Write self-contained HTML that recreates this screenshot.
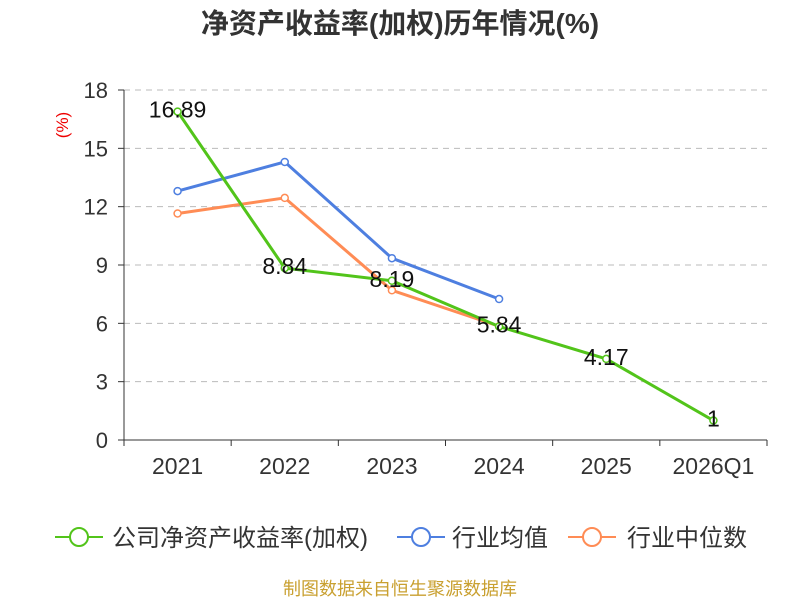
<!DOCTYPE html>
<html><head><meta charset="utf-8"><style>
body{margin:0;background:#fff;font-family:"Liberation Sans","Noto Sans CJK SC",sans-serif;}
</style></head><body>
<svg id="c" width="800" height="600" xmlns="http://www.w3.org/2000/svg" font-family="Liberation Sans, Noto Sans CJK SC, sans-serif">
<text x="400" y="33" text-anchor="middle" font-size="28" font-weight="bold" fill="#333">净资产收益率(加权)历年情况(%)</text>
<text transform="translate(68,125) rotate(-90)" text-anchor="middle" font-size="17" fill="#e00">(%)</text>
<g id="grid"></g><g id="axes"></g><g id="series"></g>
<g>
<g><line x1="55" y1="537" x2="103" y2="537" stroke="#52c41a" stroke-width="2"/><circle cx="79" cy="537" r="9" fill="#fff" stroke="#52c41a" stroke-width="2"/><text x="112" y="546" font-size="24" fill="#333">公司净资产收益率(加权)</text></g>
<g><line x1="397" y1="537" x2="445" y2="537" stroke="#4e7fe0" stroke-width="2"/><circle cx="421" cy="537" r="9" fill="#fff" stroke="#4e7fe0" stroke-width="2"/><text x="452" y="546" font-size="24" fill="#333">行业均值</text></g>
<g><line x1="568" y1="537" x2="616" y2="537" stroke="#ff8c55" stroke-width="2"/><circle cx="592" cy="537" r="9" fill="#fff" stroke="#ff8c55" stroke-width="2"/><text x="627" y="546" font-size="24" fill="#333">行业中位数</text></g>
</g>
<text x="400" y="595" text-anchor="middle" font-size="18" fill="#c9a030">制图数据来自恒生聚源数据库</text>
</svg>
<script>
const categories=["2021","2022","2023","2024","2025","2026Q1"];
const companyValues=[16.89,8.84,8.19,5.84,4.17,1];
const avgValues=[12.8,14.3,9.35,7.25,null,null];
const medianValues=[11.65,12.45,7.7,5.85,null,null];
const yTicks=[0,3,6,9,12,15,18];
const NS="http://www.w3.org/2000/svg";
const x0=124,x1=767,y0=440,y1=90;
const bw=(x1-x0)/categories.length;
const xs=i=>x0+bw*(i+0.5);
const ys=v=>y0-(v/18)*(y0-y1);
function mk(t,a,p){const e=document.createElementNS(NS,t);for(const k in a)e.setAttribute(k,a[k]);p.appendChild(e);return e;}
const grid=document.getElementById('grid'),axes=document.getElementById('axes'),ser=document.getElementById('series');
yTicks.forEach(v=>{
 if(v>0){const l=mk('line',{x1:x0,x2:x1,y1:ys(v),y2:ys(v),stroke:'#bbb','stroke-dasharray':'6,5'},grid);
 
 }
 const t=mk('text',{x:x0-16,y:ys(v)+8,'text-anchor':'end','font-size':22,fill:'#333'},axes);t.textContent=v;
 
 
 mk('line',{x1:x0-6,x2:x0,y1:ys(v),y2:ys(v),stroke:'#333'},axes);
});
mk('line',{x1:x0,x2:x0,y1:y1,y2:y0,stroke:'#333'},axes);
mk('line',{x1:x0,x2:x1,y1:y0,y2:y0,stroke:'#333'},axes);
for(let i=0;i<=categories.length;i++)mk('line',{x1:x0+bw*i,x2:x0+bw*i,y1:y0,y2:y0+6,stroke:'#333'},axes);
categories.forEach((c,i)=>{const t=mk('text',{x:xs(i),y:y0+34,'text-anchor':'middle','font-size':23,fill:'#333'},axes);t.textContent=c;
 
 });
function series(vals,color,name,labels){
 const g=mk('g',{},ser);
 
 
 const pts=vals.map((v,i)=>v==null?null:[xs(i),ys(v)]).filter(p=>p);
 mk('polyline',{points:pts.map(p=>p.join(',')).join(' '),fill:'none',stroke:color,'stroke-width':3},g);
 vals.forEach((v,i)=>{if(v==null)return;
  const c=mk('circle',{cx:xs(i),cy:ys(v),r:3.5,fill:'#fff',stroke:color,'stroke-width':1.5},g);
  
  
  if(labels){const t=mk('text',{x:xs(i),y:ys(v)+6,'text-anchor':'middle','font-size':23,fill:'#111'},g);t.textContent=v;
   
   }
 });
}
series(avgValues,'#4e7fe0','industry-avg-line',false);
series(medianValues,'#ff8c55','industry-median-line',false);
series(companyValues,'#52c41a','company-roe-line',true);
</script>
</body></html>
